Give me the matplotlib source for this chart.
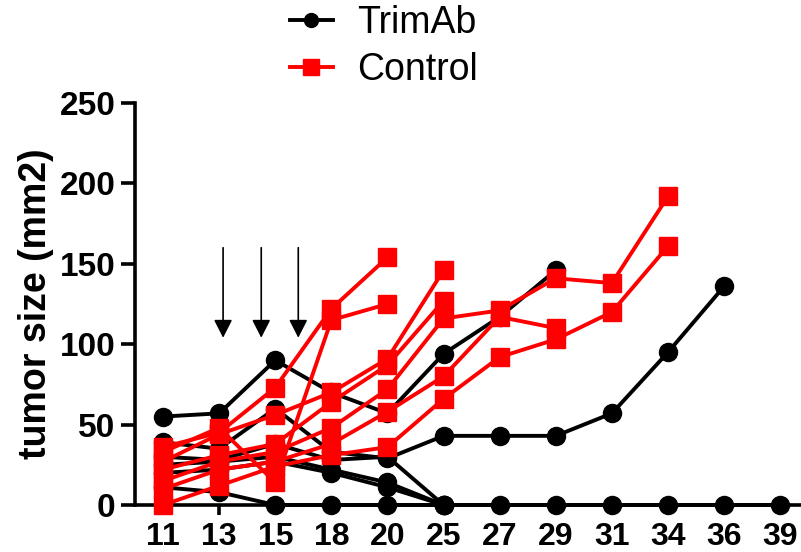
import numpy as np
import matplotlib
matplotlib.use("Agg")
import matplotlib.pyplot as plt
from matplotlib.lines import Line2D

# days (categorical, evenly spaced)
days = [11, 13, 15, 18, 20, 25, 27, 29, 31, 34, 36, 39]

# TrimAb mice (each list starts at day 11)
trim_1 = [55, 57, 90, 70, 57, 94, 117, 146]
trim_2 = [39, 35, 60, 33, 29, 43, 43, 43, 57, 95, 136]
trim_3 = [30, 28, 38, 28, 30, 0]
trim_4 = [25, 27, 30, 22, 14, 0]
trim_5 = [20, 22, 27, 20, 11, 0]
trim_6 = [11, 8, 0, 0, 0, 0, 0, 0, 0, 0, 0, 0]

# Control mice
ctrl_1 = [36, 45, 73, 122, 154]
ctrl_2 = [33, 48, 14, 115, 125]
ctrl_3 = [27, 44, 56, 70, 91, 146]
ctrl_4 = [22, 31, 38, 64, 87, 127]
ctrl_5 = [15, 27, 33, 48, 72, 116, 121, 141, 138, 192]
ctrl_6 = [10, 22, 27, 38, 58, 80, 117, 110]
ctrl_7 = [0, 12, 24, 31, 36, 66, 92, 103, 120, 161]

# treatment arrows (x in category units)
arrow_x = [1.07, 1.75, 2.41]
arrow_top, arrow_tip = 160, 104

trimab = [trim_1, trim_2, trim_3, trim_4, trim_5, trim_6]
control = [ctrl_1, ctrl_2, ctrl_3, ctrl_4, ctrl_5, ctrl_6, ctrl_7]

plt.rcParams['font.family'] = ['Liberation Sans', 'DejaVu Sans']

fig = plt.figure(figsize=(8.01, 5.52), dpi=100)
ax = fig.add_axes([135/801, 47/552, 666/801, 402/552])

for s in trimab:
    ax.plot(range(len(s)), s, color="black", lw=2.8, marker="o", ms=13,
            clip_on=False, zorder=3)
for s in control:
    ax.plot(range(len(s)), s, color="#ff0000", lw=2.8, marker="s", ms=13,
            clip_on=False, zorder=4)

for x in arrow_x:
    ax.annotate("", xy=(x, arrow_tip), xytext=(x, arrow_top),
                arrowprops=dict(arrowstyle="-|>,head_length=0.55,head_width=0.28",
                                mutation_scale=20, color="black", lw=1.2,
                                shrinkA=0, shrinkB=0))

ax.set_xlim(-0.5, 11.37)
ax.set_ylim(0, 250)
ax.set_xticks(range(len(days)))
ax.set_xticklabels([str(d) for d in days])
ax.set_yticks([0, 50, 100, 150, 200, 250])
for sp in ["top", "right"]:
    ax.spines[sp].set_visible(False)
for sp in ["left", "bottom"]:
    ax.spines[sp].set_linewidth(2.6)
ax.tick_params(axis="y", length=10, width=2.6, pad=4, labelsize=24)
ax.tick_params(axis="x", length=7, width=2.6, pad=5, labelsize=23)
for lab in ax.get_xticklabels() + ax.get_yticklabels():
    lab.set_fontweight("bold")
ax.set_ylabel("tumor size (mm2)", fontsize=27, fontweight="bold", labelpad=4)

handles = [
    Line2D([0], [0], color="black", lw=2.8, marker="o", ms=10, label="TrimAb"),
    Line2D([0], [0], color="#ff0000", lw=2.8, marker="s", ms=11, label="Control"),
]
fig.legend(handles=handles, loc="upper left", bbox_to_anchor=(286/801, 0.998),
           frameon=False, fontsize=27, handlelength=1.15, handletextpad=0.64,
           labelspacing=0.3, borderaxespad=0.0, borderpad=0.1)

fig.savefig("out.png", dpi=100)
